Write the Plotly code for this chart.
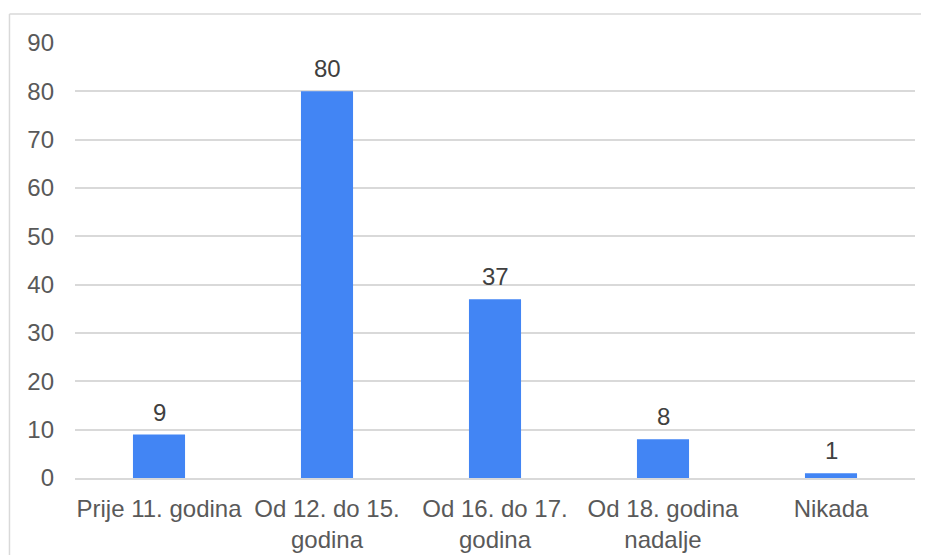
import plotly.graph_objects as go

categories = ["Prije 11. godina", "Od 12. do 15.<br>godina", "Od 16. do 17.<br>godina", "Od 18. godina<br>nadalje", "Nikada"]
values = [9, 80, 37, 8, 1]
y_ticks = [0, 10, 20, 30, 40, 50, 60, 70, 80, 90]

FONT = "Liberation Sans, Arial, sans-serif"
TXT = "#595959"
FS = 24

fig = go.Figure(go.Bar(
    x=categories, y=values,
    marker=dict(color="#4285F4", line=dict(width=0)),
    hoverinfo="x+y",
))

for c, v in zip(categories, values):
    fig.add_annotation(x=c, y=v, text=str(v), showarrow=False, yanchor="bottom", yshift=7,
                       font=dict(family=FONT, size=FS, color="#404040"))

fig.update_layout(
    width=921, height=547,
    margin=dict(l=67, r=14, t=35, b=77, autoexpand=False),
    paper_bgcolor="white", plot_bgcolor="white",
    bargap=0.69,
    showlegend=False,
    font=dict(family=FONT, size=FS, color=TXT),
    xaxis=dict(showgrid=False, showline=True, linecolor="#d9d9d9", linewidth=1.5, automargin=False,
               tickfont=dict(family=FONT, size=FS, color=TXT),
               ticks="outside", ticklen=8, tickcolor="rgba(0,0,0,0)"),
    yaxis=dict(range=[0, 90], tickvals=y_ticks, showgrid=True, gridcolor="#d9d9d9", gridwidth=1.5,
               zeroline=False, showline=False, ticks="", ticklabelstandoff=20, automargin=False,
               tickfont=dict(family=FONT, size=FS, color=TXT)),
    shapes=[
        dict(type="line", xref="paper", yref="paper", x0=-0.078, x1=1.2, y0=1.0667, y1=1.0667,
             line=dict(color="#d9d9d9", width=1.5), layer="below"),
        dict(type="line", xref="paper", yref="paper", x0=-0.078, x1=-0.078, y0=-0.3, y1=1.0667,
             line=dict(color="#d9d9d9", width=1.5), layer="below"),
    ],
)

fig.write_html("out.html")
